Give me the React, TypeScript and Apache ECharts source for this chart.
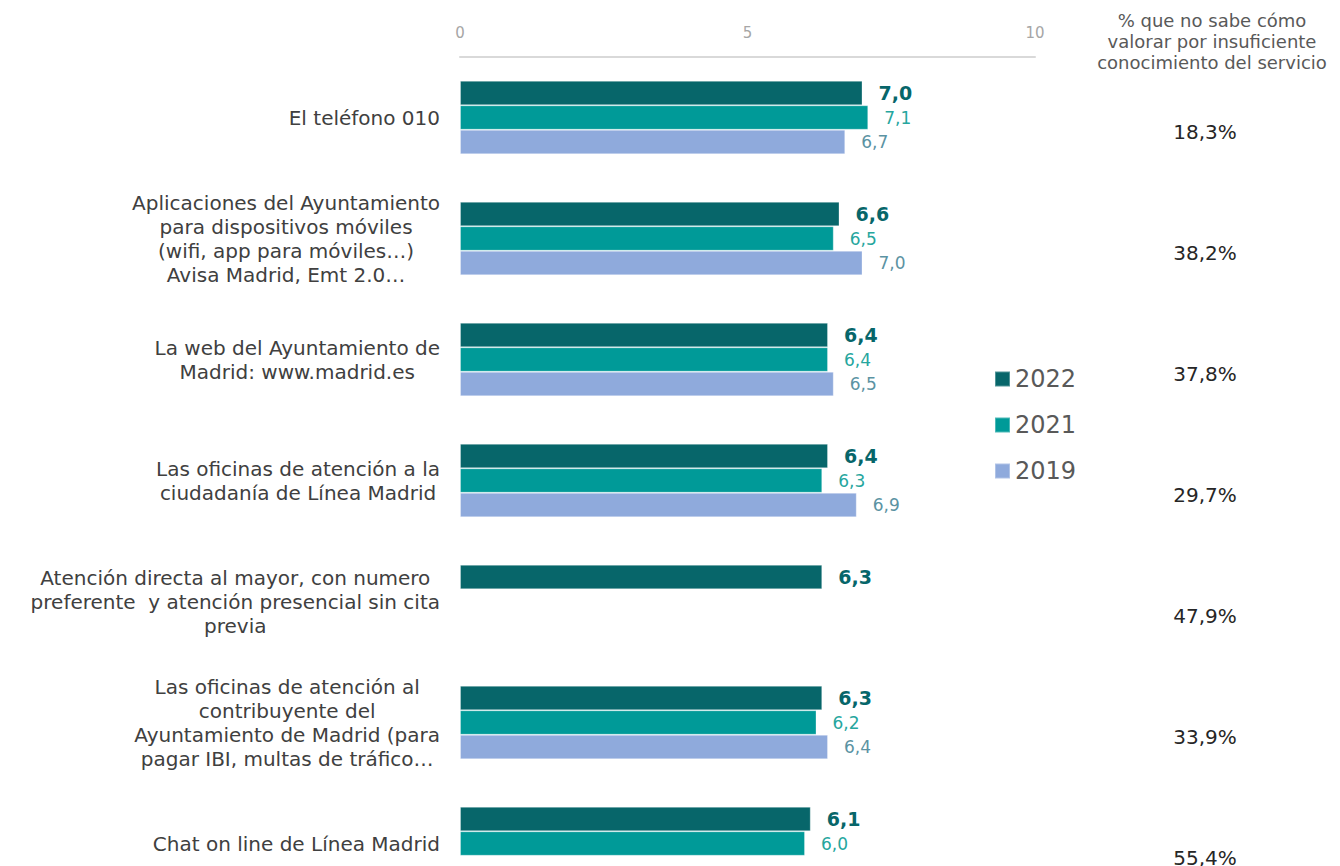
import React, { useEffect, useRef } from "react";
import * as echarts from "echarts";

const categories = [
  "El teléfono 010",
  "Aplicaciones del Ayuntamiento\npara dispositivos móviles\n(wifi, app para móviles…)\nAvisa Madrid, Emt 2.0…",
  "La web del Ayuntamiento de\nMadrid: www.madrid.es",
  "Las oficinas de atención a la\nciudadanía de Línea Madrid",
  "Atención directa al mayor, con numero\npreferente  y atención presencial sin cita\nprevia",
  "Las oficinas de atención al\ncontribuyente del\nAyuntamiento de Madrid (para\npagar IBI, multas de tráfico…",
  "Chat on line de Línea Madrid",
];
const values2022 = [7.0, 6.6, 6.4, 6.4, 6.3, 6.3, 6.1];
const values2021 = [7.1, 6.5, 6.4, 6.3, null, 6.2, 6.0];
const values2019 = [6.7, 7.0, 6.5, 6.9, null, 6.4, null];
const noSabe = ["18,3%", "38,2%", "37,8%", "29,7%", "47,9%", "33,9%", "55,4%"];
const seriesNames = ["2022", "2021", "2019"];
const headerText = "% que no sabe cómo\nvalorar por insuficiente\nconocimiento del servicio";

const FONT = "DejaVu Sans";
const fmt = (v: number) => v.toFixed(1).replace(".", ",");

export default function App() {
  const ref = useRef<HTMLDivElement>(null);
  useEffect(() => {
    if (!ref.current) return;
    const chart = echarts.init(ref.current, undefined, { renderer: "svg" });
    const mkSeries = (name: string, data: (number | null)[], color: string, lblColor: string, bold: boolean) => ({
      name,
      type: "bar",
      data,
      barWidth: 24.5,
      barGap: "0%",
      itemStyle: { color, borderColor: "rgba(255,255,255,0.3)", borderWidth: 1 },
      label: {
        show: true,
        position: "right",
        distance: 16,
        color: lblColor,
        fontFamily: FONT,
        fontSize: bold ? 19 : 17,
        fontWeight: bold ? "bold" : "normal",
        formatter: (p: any) => fmt(p.value),
      },
    });
    chart.setOption({
      animation: false,
      textStyle: { fontFamily: FONT },
      title: {
        text: headerText,
        left: 1207,
        top: 5,
        textAlign: "center",
        textStyle: { fontFamily: FONT, fontSize: 18, fontWeight: "normal", color: "#595959", lineHeight: 21 },
      },
      legend: {
        data: seriesNames,
        orient: "vertical",
        left: 989,
        top: 362,
        icon: "rect",
        itemWidth: 15,
        itemHeight: 15,
        itemGap: 22,
        textStyle: { fontFamily: FONT, fontSize: 24, color: "#595959" },
      },
      grid: { left: 460, right: 305, top: 57, height: 847 },
      xAxis: {
        type: "value",
        position: "top",
        min: 0,
        max: 10,
        interval: 5,
        axisLine: { show: true, lineStyle: { color: "#d9d9d9", width: 2 } },
        axisTick: { show: false },
        splitLine: { show: false },
        axisLabel: { color: "#a6a6a6", fontSize: 15, fontFamily: FONT, margin: 17 },
      },
      yAxis: [
        {
          type: "category",
          data: categories,
          inverse: true,
          axisLine: { show: false },
          axisTick: { show: false },
          axisLabel: {
            margin: 20,
            formatter: (v: string) => v.split("\n").map((l) => `{c|${l}}`).join("\n"),
            rich: { c: { align: "center", fontFamily: FONT, fontSize: 20, lineHeight: 24, color: "#404040" } },
          },
        },
        {
          type: "category",
          data: noSabe,
          inverse: true,
          position: "right",
          axisLine: { show: false },
          axisTick: { show: false },
          axisLabel: {
            margin: 170,
            align: "center",
            verticalAlign: "top",
            lineHeight: 28,
            fontFamily: FONT,
            fontSize: 20,
            color: "#262626",
          },
        },
      ],
      series: [
        mkSeries("2022", values2022, "#07666A", "#07666A", true),
        mkSeries("2021", values2021, "#009A98", "#26A69E", false),
        mkSeries("2019", values2019, "#8FAADC", "#5B93A3", false),
      ],
    });
    return () => chart.dispose();
  }, []);
  return <div ref={ref} style={{ position: "absolute", left: 0, top: 0, width: 1340, height: 920 }} />;
}
